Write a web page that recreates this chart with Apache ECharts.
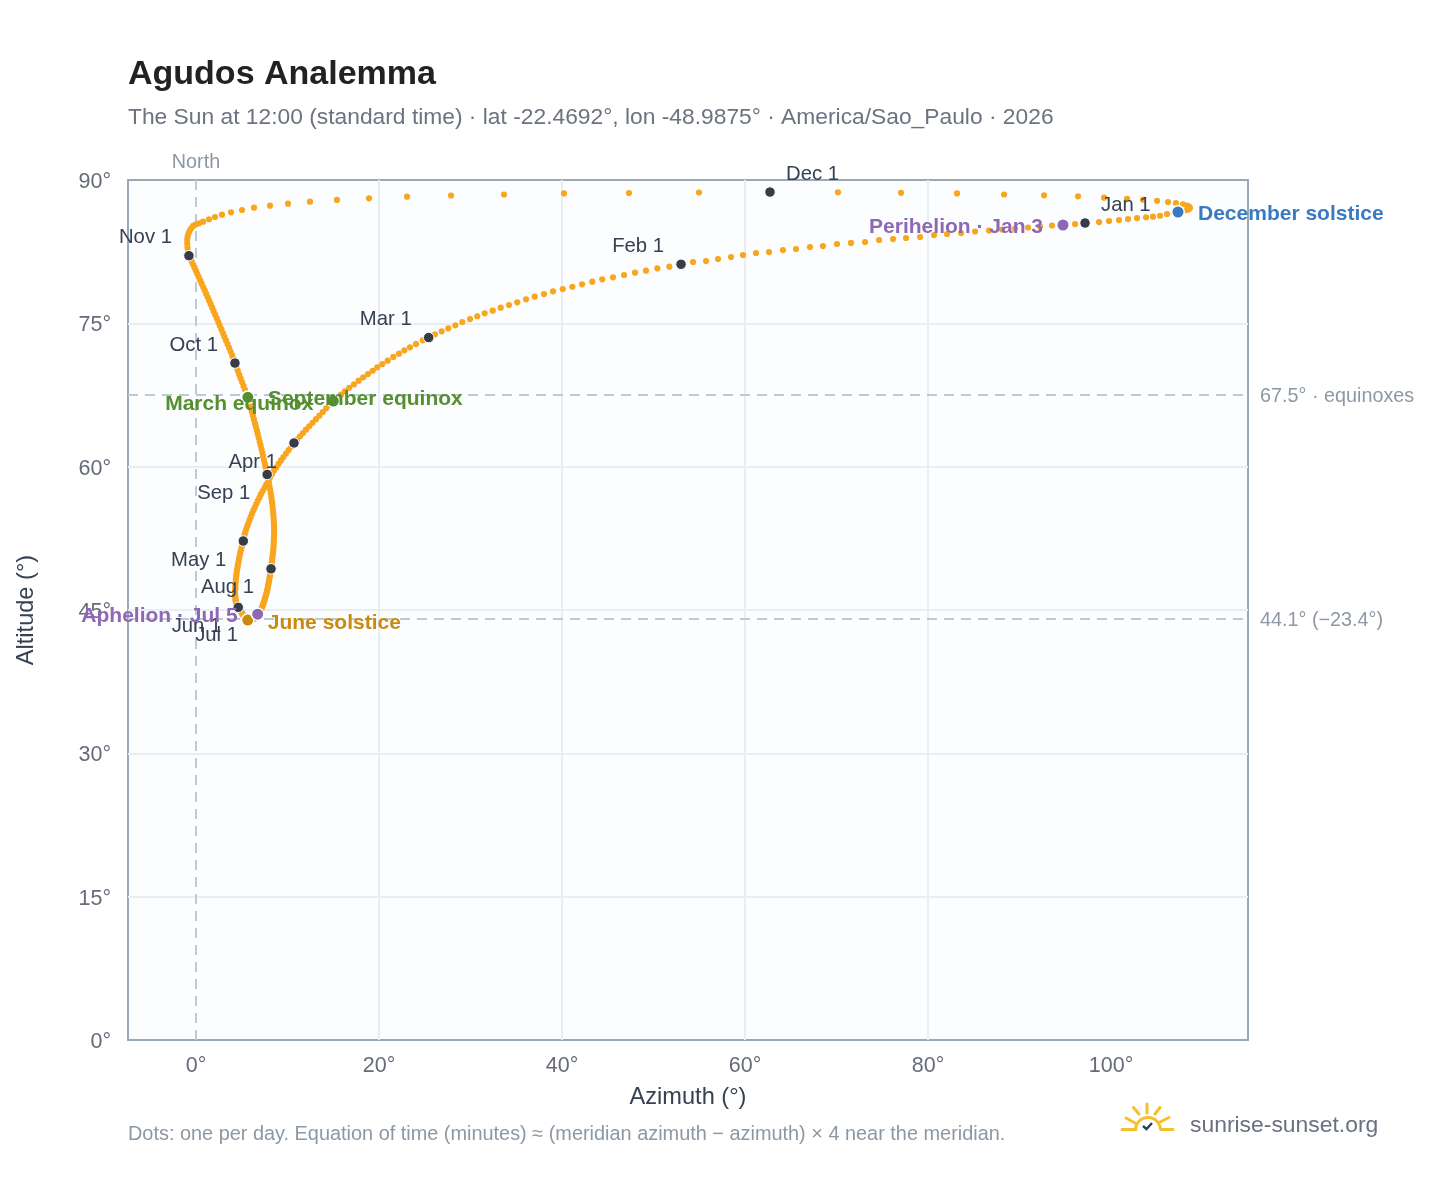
<!DOCTYPE html>
<html><head><meta charset="utf-8">
<style>html,body{margin:0;padding:0;background:#fff}#c{width:1448px;height:1188px}</style>
<script src="https://cdn.jsdelivr.net/npm/echarts@6/dist/echarts.min.js"></script>
</head><body><div id="c"></div>
<script>
const azJan=[97.16,96.07,94.75,93.55,92.24,90.93,89.51,88.09,86.67,85.14,83.61,82.08,80.66,79.13,77.60,76.18,74.65,73.12,71.58,70.05,68.52,67.10,65.57,64.15,62.62,61.20,59.78,58.47,57.05,55.74,54.32];
const altJan=[85.50,85.39,85.29,85.24,85.13,85.03,84.92,84.82,84.71,84.61,84.45,84.35,84.24,84.03,83.93,83.82,83.72,83.51,83.41,83.30,83.09,82.99,82.78,82.67,82.46,82.36,82.15,81.94,81.73,81.52,81.42];
const azFeb=[53.01,51.73,50.42,49.18,47.98,46.78,45.57,44.40,43.31,42.19,41.13,40.08,39.02,38.03,37.02,36.07,35.11,34.21,33.30,32.43,31.55,30.74,29.95,29.10,28.34,27.57,26.85,26.12];
const altFeb=[81.18,80.93,80.76,80.51,80.30,80.06,79.82,79.61,79.36,79.08,78.83,78.59,78.35,78.07,77.79,77.51,77.20,76.92,76.64,76.32,76.05,75.74,75.45,75.14,74.79,74.48,74.16,73.85];
const azMar=[25.43,24.78,24.04,23.39,22.77,22.19,21.56,20.95,20.36,19.81,19.31,18.80,18.28,17.78,17.27,16.75,16.28,15.85,15.41,15.01,14.62,14.23,13.86,13.49,13.11,12.74,12.37,12.02,11.69,11.37,11.04];
const altMar=[73.51,73.22,72.84,72.49,72.18,71.82,71.48,71.09,70.74,70.40,70.04,69.70,69.35,69.00,68.62,68.26,67.89,67.53,67.15,66.87,66.49,66.11,65.72,65.34,64.97,64.59,64.23,63.87,63.52,63.18,62.82];
const azApr=[10.71,10.42,10.12,9.84,9.55,9.29,9.03,8.78,8.52,8.31,8.09,7.90,7.69,7.50,7.30,7.10,6.93,6.75,6.59,6.43,6.27,6.12,5.98,5.85,5.72,5.60,5.48,5.38,5.30,5.23];
const altApr=[62.48,62.11,61.74,61.38,61.01,60.65,60.30,59.94,59.59,59.23,58.88,58.50,58.15,57.81,57.46,57.12,56.77,56.43,56.09,55.75,55.41,55.08,54.74,54.42,54.08,53.76,53.43,53.12,52.81,52.49];
const azMay=[5.17,5.08,5.01,4.93,4.85,4.79,4.72,4.67,4.61,4.56,4.51,4.47,4.44,4.40,4.37,4.35,4.33,4.31,4.30,4.28,4.27,4.27,4.28,4.30,4.31,4.33,4.36,4.39,4.44,4.48,4.55];
const altMay=[52.22,51.92,51.61,51.32,51.03,50.73,50.45,50.17,49.89,49.61,49.34,49.08,48.82,48.57,48.32,48.08,47.84,47.61,47.39,47.17,46.96,46.76,46.56,46.37,46.19,46.02,45.87,45.72,45.59,45.47,45.38];
const azJun=[4.62,4.69,4.74,4.80,4.85,4.91,4.96,5.02,5.07,5.13,5.18,5.23,5.29,5.34,5.40,5.45,5.50,5.54,5.58,5.62,5.66,5.72,5.79,5.87,5.95,6.02,6.10,6.17,6.25,6.34];
const altJun=[45.28,45.18,45.08,45.00,44.91,44.82,44.74,44.66,44.59,44.52,44.45,44.37,44.31,44.26,44.20,44.15,44.10,44.06,44.02,43.98,43.95,43.93,43.93,43.95,43.98,44.03,44.07,44.11,44.16,44.22];
const azJul=[6.45,6.52,6.59,6.67,6.74,6.82,6.89,6.96,7.03,7.09,7.16,7.22,7.29,7.34,7.40,7.45,7.51,7.56,7.62,7.67,7.73,7.78,7.83,7.87,7.91,7.96,8.00,8.04,8.09,8.12,8.16];
const altJul=[44.29,44.35,44.41,44.49,44.56,44.64,44.73,44.82,44.93,45.04,45.17,45.30,45.45,45.61,45.76,45.93,46.10,46.28,46.46,46.65,46.85,47.05,47.26,47.47,47.69,47.91,48.14,48.37,48.60,48.84,49.07];
const azAug=[8.20,8.24,8.27,8.31,8.34,8.37,8.40,8.44,8.46,8.48,8.50,8.51,8.52,8.54,8.54,8.54,8.52,8.51,8.49,8.47,8.44,8.40,8.37,8.33,8.28,8.23,8.17,8.11,8.03,7.96,7.87];
const altAug=[49.31,49.56,49.82,50.09,50.35,50.62,50.89,51.17,51.46,51.74,52.03,52.33,52.63,52.93,53.24,53.55,53.86,54.18,54.50,54.83,55.15,55.49,55.82,56.16,56.49,56.84,57.21,57.59,57.97,58.37,58.78];
const azSep=[7.78,7.69,7.61,7.52,7.43,7.34,7.26,7.16,7.06,6.96,6.86,6.75,6.66,6.55,6.44,6.33,6.22,6.11,6.00,5.89,5.78,5.67,5.52,5.36,5.19,5.03,4.87,4.72,4.57,4.42];
const altSep=[59.18,59.56,59.93,60.31,60.70,61.07,61.45,61.84,62.23,62.61,63.00,63.39,63.77,64.16,64.55,64.94,65.32,65.71,66.10,66.48,66.87,67.26,67.66,68.05,68.45,68.85,69.25,69.64,70.04,70.44];
const azOct=[4.26,4.11,3.95,3.78,3.62,3.45,3.28,3.10,2.94,2.78,2.60,2.44,2.27,2.10,1.93,1.77,1.61,1.44,1.28,1.11,0.95,0.79,0.62,0.46,0.30,0.13,-0.02,-0.17,-0.33,-0.48,-0.63];
const altOct=[70.84,71.25,71.64,72.04,72.44,72.83,73.21,73.60,73.99,74.38,74.76,75.14,75.52,75.89,76.27,76.64,77.00,77.37,77.73,78.09,78.45,78.80,79.15,79.49,79.84,80.18,80.52,80.85,81.18,81.50,81.81];
const azNov=[-0.77,-0.86,-0.93,-0.96,-0.96,-0.92,-0.82,-0.69,-0.52,-0.31,-0.04,0.33,0.77,1.42,2.08,2.84,3.83,5.03,6.34,8.09,10.05,12.46,15.41,18.91,23.06,27.87,33.66,40.22,47.32,54.97];
const altNov=[82.08,82.52,82.93,83.33,83.72,84.07,84.40,84.69,84.95,85.19,85.34,85.47,85.64,85.89,86.13,86.37,86.62,86.86,87.10,87.31,87.52,87.73,87.91,88.08,88.25,88.38,88.48,88.59,88.64,88.69];
const azDec=[62.73,70.16,77.05,83.17,88.31,92.68,96.39,99.24,101.75,103.50,105.03,106.23,107.10,107.87,108.31,108.53,108.63,108.53,108.31,107.87,107.32,106.89,106.12,105.36,104.59,103.83,102.84,101.86,100.87,99.78,98.69];
const altDec=[88.74,88.72,88.66,88.59,88.48,88.40,88.29,88.15,88.04,87.94,87.83,87.69,87.59,87.46,87.33,87.21,87.07,86.96,86.86,86.75,86.65,86.54,86.44,86.26,86.16,86.10,86.02,85.92,85.81,85.71,85.60];

const monthNames=['Jan','Feb','Mar','Apr','May','Jun','Jul','Aug','Sep','Oct','Nov','Dec'];
const xTicks=[0,20,40,60,80,100];
const eventNames=['Perihelion · Jan 3','March equinox','June solstice','Aphelion · Jul 5','September equinox','December solstice'];
const eventDays=[2,78,171,185,264,354];
const titleText='Agudos Analemma';
const subtitleText='The Sun at 12:00 (standard time) · lat -22.4692°, lon -48.9875° · America/Sao_Paulo · 2026';
const footerText='Dots: one per day. Equation of time (minutes) ≈ (meridian azimuth − azimuth) × 4 near the meridian.';

const azByMonth=[azJan,azFeb,azMar,azApr,azMay,azJun,azJul,azAug,azSep,azOct,azNov,azDec];
const altByMonth=[altJan,altFeb,altMar,altApr,altMay,altJun,altJul,altAug,altSep,altOct,altNov,altDec];
const az=azByMonth.flat(), alt=altByMonth.flat();
const pts=az.map((a,i)=>[a,alt[i]]);
let start=0; const firsts=azByMonth.map(m=>{const s=start;start+=m.length;return s;});

const F='"Liberation Sans",Arial,sans-serif';
const monthStyle={Jan:['left',-1],Feb:['right',-1],Mar:['right',-1],Apr:['right',1],May:['right',1],Jun:['right',1],Jul:['right',1],Aug:['right',1],Sep:['right',1],Oct:['right',-1],Nov:['right',-1],Dec:['left',-1]};
const monthData=firsts.map((d,i)=>{
  const n=monthNames[i],[al,v]=monthStyle[n];
  return {value:pts[d],label:{show:true,formatter:n+' 1',position:'inside',align:al,verticalAlign:'middle',
    offset:[al==='left'?16:-17,v*18.5+0.5],color:'#374151',fontSize:20.3,fontFamily:F}};
});
const eventStyle={
 'Perihelion · Jan 3':['right','#8e67b5',[-20,2]],
 'March equinox':['right','#558f2f',[-20,3]],
 'June solstice':['left','#c98a0e',[20,3]],
 'Aphelion · Jul 5':['right','#8e67b5',[-20,2]],
 'September equinox':['left','#558f2f',[20,2]],
 'December solstice':['left','#3b7ac0',[20,2]]};
const eventData=eventNames.map((n,i)=>{
  const [al,c,o]=eventStyle[n];
  return {value:pts[eventDays[i]],itemStyle:{color:c,opacity:1},label:{show:true,formatter:n,position:'inside',align:al,verticalAlign:'middle',offset:o,color:c,fontSize:21,fontWeight:'bold',fontFamily:F}};
});
const dash={type:[10,7],color:'#bccad7',width:2};
const refLabel={show:true,position:'end',color:'#8c98a4',fontSize:19.8,fontFamily:F,distance:12,offset:[0,2]};
const ch=echarts.init(document.getElementById('c'),null,{renderer:'canvas'});
const sun='#f6c02c';
const seg=(x1,y1,x2,y2,c,w)=>({type:'line',shape:{x1,y1,x2,y2},style:{stroke:c||sun,lineWidth:w||3,lineCap:'round'},silent:true});
ch.setOption({
 animation:false,backgroundColor:'#fff',
 title:[
  {text:titleText,left:128,top:58,padding:0,textStyle:{fontSize:34,fontWeight:'bold',color:'#222',fontFamily:F}},
  {text:subtitleText,left:128,top:106,padding:0,textStyle:{fontSize:22.8,fontWeight:'normal',color:'#6b7280',fontFamily:F}}
 ],
 grid:{left:128,right:200,top:180,bottom:148,backgroundColor:'#fbfdff',show:true,borderWidth:2,borderColor:'#9aa8b7'},
 xAxis:{type:'value',min:-7.43,max:114.97,name:'Azimuth (°)',nameLocation:'middle',nameGap:45,
  nameTextStyle:{fontSize:23.6,color:'#374151',fontFamily:F},
  axisLine:{show:false},axisTick:{show:false,customValues:xTicks},
  axisLabel:{customValues:xTicks,formatter:v=>v+'°',fontSize:21.5,color:'#666b78',fontFamily:F,margin:15},
  splitLine:{show:true,showMinLine:false,showMaxLine:false,lineStyle:{color:'#e9eef3',width:2}}},
 yAxis:{type:'value',min:0,max:90,interval:15,name:'Altitude (°)',nameLocation:'middle',nameGap:90,
  nameTextStyle:{fontSize:23.6,color:'#374151',fontFamily:F},
  axisLine:{show:false},axisTick:{show:false},
  axisLabel:{formatter:v=>'{t|'+v+'°}',margin:17,
    rich:{t:{fontSize:21.5,color:'#666b78',fontFamily:F,padding:[4,0,0,0]}}},
  splitLine:{show:true,showMinLine:false,showMaxLine:false,lineStyle:{color:'#e9eef3',width:2}}},
 series:[
  {type:'scatter',name:'Sun',data:pts,symbolSize:6.2,clip:false,z:3,itemStyle:{color:'#f9a61f',opacity:1},silent:true,
   markLine:{silent:true,symbol:'none',animation:false,z:2,lineStyle:dash,
    data:[{xAxis:0,label:{...refLabel,formatter:'North',distance:9}},
          {yAxis:67.5,label:{...refLabel,formatter:'67.5° · equinoxes'}},
          {yAxis:44.1,label:{...refLabel,formatter:'44.1° (−23.4°)'}}]}},
  {type:'scatter',name:'Month starts',data:monthData,symbolSize:10.5,clip:false,z:4,silent:true,
   itemStyle:{color:'#363c48',opacity:1,borderColor:'#fff',borderWidth:1}},
  {type:'scatter',name:'Events',data:eventData,symbolSize:12.5,clip:false,z:5,silent:true,
   itemStyle:{borderColor:'#fff',borderWidth:1.5}}
 ],
 graphic:[
  {type:'text',left:128,top:1125,silent:true,style:{text:footerText,fontSize:19.9,fill:'#8c98a4',fontFamily:F}},
  {type:'text',left:1190,top:1114,silent:true,style:{text:'sunrise-sunset.org',fontSize:22.9,fill:'#6b7080',fontFamily:F}},
  {type:'arc',shape:{cx:1148,cy:1130,r:12.5,startAngle:Math.PI,endAngle:2*Math.PI},style:{stroke:sun,fill:null,lineWidth:3},silent:true},
  seg(1122,1129.5,1136,1129.5),seg(1161,1129.5,1173,1129.5),
  seg(1147,1104,1147,1113),seg(1133.5,1107.5,1139,1114),seg(1160,1107.5,1155,1114),
  seg(1126,1118,1135,1123),seg(1169,1117.5,1160,1122),
  {type:'polyline',shape:{points:[[1143,1126],[1146.5,1129],[1152,1123]]},style:{stroke:'#27405e',fill:null,lineWidth:2.4},silent:true}
 ]
});
</script></body></html>
